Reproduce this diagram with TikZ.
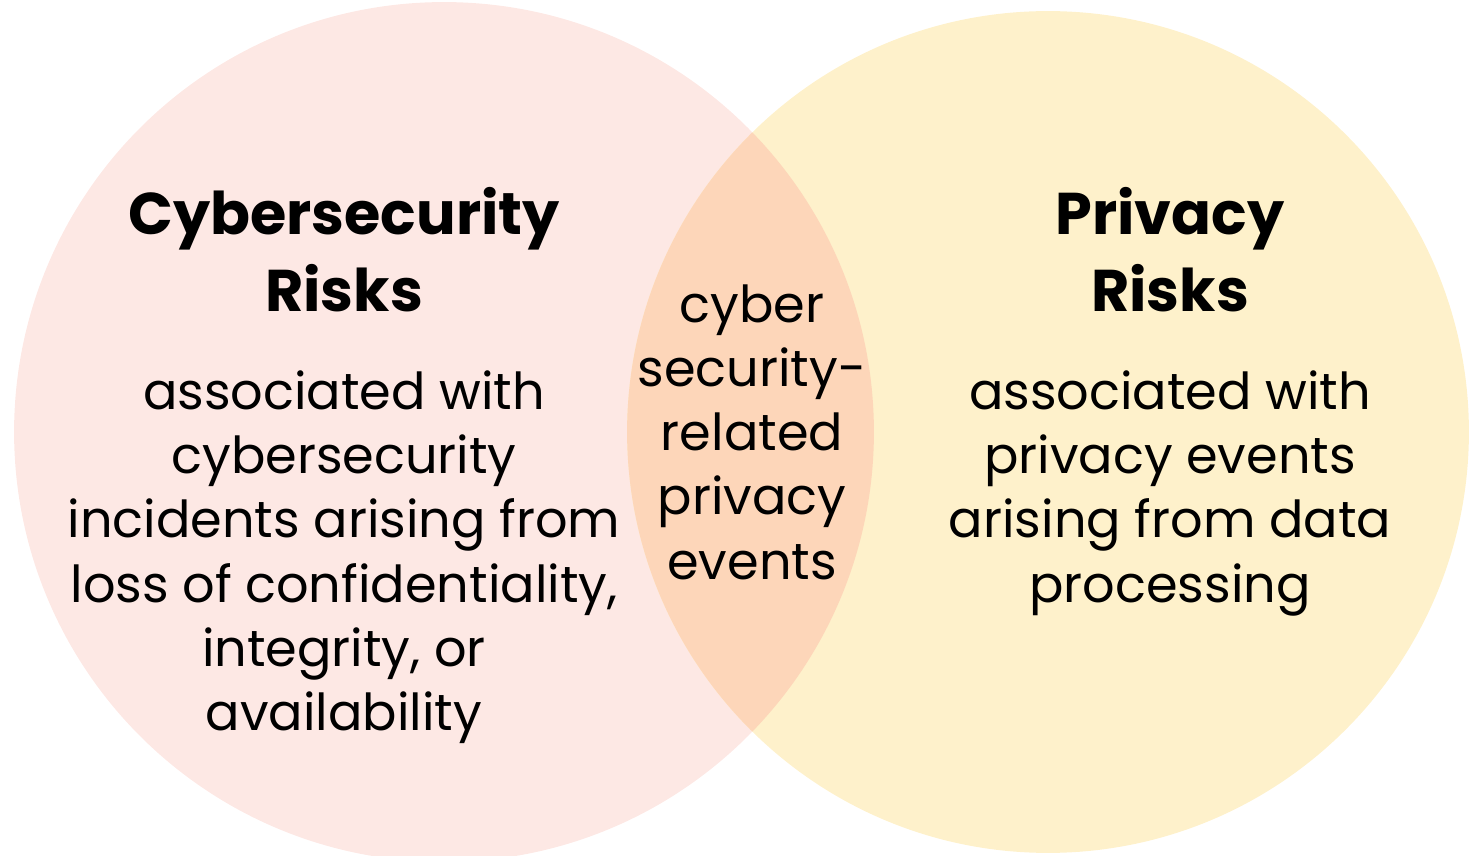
\documentclass[tikz,border=0pt]{standalone}
\usepackage{fontspec}
\setmainfont{Poppins}
\usepackage{xcolor}
\usepackage{tikz}
\usetikzlibrary{positioning}
\definecolor{cyberpink}{HTML}{FDE8E4}
\definecolor{privyellow}{HTML}{FEF1CB}
\definecolor{overlap}{HTML}{FDD6B9}

\begin{document}
\begin{tikzpicture}[
    x=0.02cm, y=0.02cm,
    node distance=0.5cm,
    title/.style={align=center, font=\fontsize{33.5}{44}\selectfont\bfseries, inner sep=0pt},
    body/.style={align=center, font=\fontsize{29}{36.6}\selectfont, inner sep=0pt}
]
\useasboundingbox (0,0) rectangle (1470,855);

% Circles
\fill[cyberpink] (444,423) circle[radius=8.6cm];
\fill[privyellow] (1048,423) circle[radius=8.42cm];
\begin{scope}
  \clip (444,423) circle[radius=8.6cm];
  \fill[overlap] (1048,423) circle[radius=8.42cm];
\end{scope}

% Cybersecurity
\node[title, anchor=north] (cybtitle) at (344,668) {Cybersecurity\\Risks};
\node[body, below=1.15cm of cybtitle] (cybbody) {associated with\\cybersecurity\\incidents arising from\\loss of confidentiality,\\integrity, or\\availability};

% Privacy
\node[title, anchor=north] (privtitle) at (1170,668) {Privacy\\Risks};
\node[body, below=1.15cm of privtitle] (privbody) {associated with\\privacy events\\arising from data\\processing};

% Overlap
\node[body] (overlaptext) at (752,423) {cyber\\security-\\related\\privacy\\events};

\end{tikzpicture}
\end{document}
